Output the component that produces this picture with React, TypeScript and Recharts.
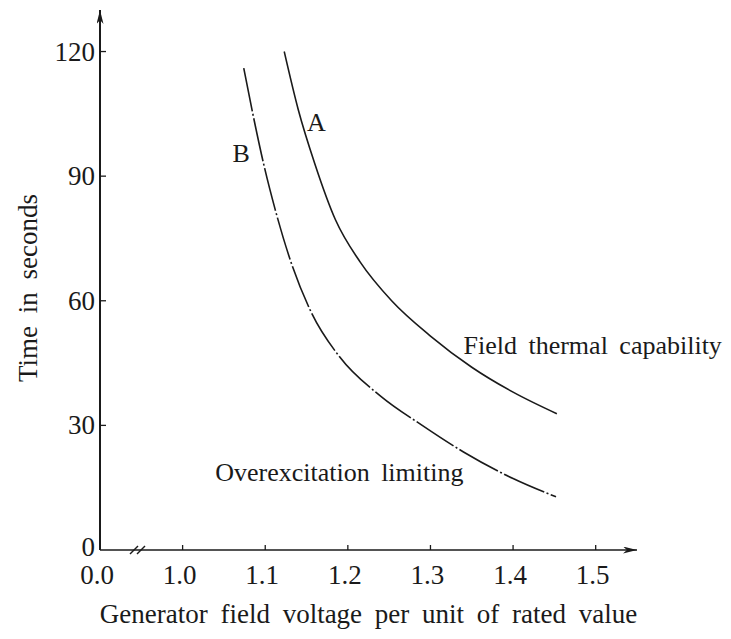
import { LineChart, Line, XAxis, YAxis, ReferenceDot } from 'recharts'

// curve A: field thermal capability (solid)
const voltageA = [1.123, 1.14, 1.16, 1.185, 1.215, 1.253, 1.3, 1.35, 1.4, 1.453]
const timeA = [120, 106, 93, 79.5, 69.3, 60, 51.5, 44, 38, 32.8]

// curve B: overexcitation limiting (dash-dot)
const voltageB = [1.074, 1.085, 1.098, 1.112, 1.13, 1.155, 1.19, 1.24, 1.29, 1.34, 1.4, 1.452]
const timeB = [116, 105, 93, 82, 70, 57.5, 46.5, 37, 30, 23.6, 17.2, 12.8]

// x axis is broken between 0.0 and 1.0, so 0.0 sits where 0.9 would be
const xTicks = [0.9, 0.946, 1.0, 1.1, 1.2, 1.3, 1.4, 1.5]
const xTickLabels = ['0.0', '', '1.0', '1.1', '1.2', '1.3', '1.4', '1.5']
const BREAK_TICK = 0.946

const yTicks = [0, 30, 60, 90, 120]

const FONT = '"Liberation Serif", "Times New Roman", serif'
const INK = '#1a1a1a'
const FONT_SIZE = 27

const dataA = voltageA.map((v, i) => ({ v, t: timeA[i] }))
const dataB = voltageB.map((v, i) => ({ v, t: timeB[i] }))

const XTick = ({ x, y, payload }: any) => {
  const value = payload.value
  if (Math.abs(value - BREAK_TICK) < 1e-6) {
    return (
      <g stroke={INK} strokeWidth={1.4}>
        <line x1={x - 8} y1={y + 4} x2={x} y2={y - 4} />
        <line x1={x - 1} y1={y + 4} x2={x + 7} y2={y - 4} />
      </g>
    )
  }
  const idx = xTicks.findIndex((t) => Math.abs(t - value) < 1e-6)
  const first = idx === 0
  return (
    <g>
      {!first && <line x1={x} y1={y} x2={x} y2={y - 5} stroke={INK} strokeWidth={1.3} />}
      <text x={x - 3} y={y + 34} textAnchor="middle" fill={INK} fontSize={FONT_SIZE} fontFamily={FONT}>
        {xTickLabels[idx]}
      </text>
    </g>
  )
}

const YTick = ({ x, y, payload }: any) => {
  const value = payload.value
  return (
    <g>
      {value !== 0 && <line x1={x} y1={y} x2={x + 6} y2={y} stroke={INK} strokeWidth={1.3} />}
      <text x={x - 5} y={value === 0 ? y + 6 : y + 9} textAnchor="end" fill={INK} fontSize={FONT_SIZE} fontFamily={FONT}>
        {value}
      </text>
    </g>
  )
}

const textStyle = { fill: INK, fontSize: FONT_SIZE, fontFamily: FONT, wordSpacing: 6 }
const curveLabelStyle = { fill: INK, fontSize: 26, fontFamily: FONT, wordSpacing: 5 }

export default function App() {
  return (
    <div style={{ position: 'absolute', left: 0, top: 0, width: 731, height: 639, background: '#fff', fontFamily: FONT }}>
      <svg width={0} height={0} style={{ position: 'absolute' }}>
        <defs>
          <marker
            id="axisArrow"
            viewBox="0 0 14 7"
            refX={14}
            refY={3.5}
            markerWidth={14}
            markerHeight={7}
            markerUnits="userSpaceOnUse"
            orient="auto-start-reverse"
          >
            <path d="M0,0 L14,3.5 L0,7 L4,3.5 z" fill={INK} />
          </marker>
        </defs>
      </svg>
      <LineChart width={731} height={639} margin={{ top: 10, right: 94, bottom: 19, left: 0 }}>
        <XAxis
          dataKey="v"
          type="number"
          domain={[0.9, 1.55]}
          ticks={xTicks}
          allowDataOverflow
          height={70}
          tickSize={0}
          tickMargin={0}
          tickLine={false}
          tick={<XTick />}
          axisLine={{ stroke: INK, strokeWidth: 1.6, markerEnd: 'url(#axisArrow)' }}
          label={{
            content: ({ viewBox }: any) => (
              <text
                x={viewBox.x + viewBox.width / 2}
                y={viewBox.y + 73}
                textAnchor="middle"
                style={textStyle}
              >
                Generator field voltage per unit of rated value
              </text>
            ),
          }}
        />
        <YAxis
          dataKey="t"
          type="number"
          domain={[0, 130]}
          ticks={yTicks}
          allowDataOverflow
          width={100}
          tickSize={0}
          tickMargin={0}
          tickLine={false}
          tick={<YTick />}
          axisLine={{ stroke: INK, strokeWidth: 2, markerStart: 'url(#axisArrow)' }}
          label={{
            content: ({ viewBox }: any) => {
              const cx = viewBox.x + 28
              const cy = viewBox.y + viewBox.height / 2 + 8
              return (
                <text
                  x={cx}
                  y={cy}
                  textAnchor="middle"
                  dominantBaseline="central"
                  transform={`rotate(-90, ${cx}, ${cy})`}
                  style={textStyle}
                >
                  Time in seconds
                </text>
              )
            },
          }}
        />
        <Line
          data={dataA}
          dataKey="t"
          type="monotone"
          stroke={INK}
          strokeWidth={1.6}
          dot={false}
          activeDot={false}
          isAnimationActive={false}
        />
        <Line
          data={dataB}
          dataKey="t"
          type="monotone"
          stroke={INK}
          strokeWidth={1.6}
          strokeDasharray="44 2.5 2 2.5"
          dot={false}
          activeDot={false}
          isAnimationActive={false}
        />
        <ReferenceDot x={1.162} y={103} r={0} fill="none" stroke="none" label={{ value: 'A', position: 'center', ...curveLabelStyle }} />
        <ReferenceDot x={1.071} y={95.6} r={0} fill="none" stroke="none" label={{ value: 'B', position: 'center', ...curveLabelStyle }} />
        <ReferenceDot
          x={1.34}
          y={49.3}
          r={0}
          fill="none"
          stroke="none"
          label={{ value: 'Field thermal capability', position: 'right', offset: 0, ...curveLabelStyle }}
        />
        <ReferenceDot
          x={1.34}
          y={18.8}
          r={0}
          fill="none"
          stroke="none"
          label={{ value: 'Overexcitation limiting', position: 'left', offset: 0, ...curveLabelStyle }}
        />
      </LineChart>
    </div>
  )
}
